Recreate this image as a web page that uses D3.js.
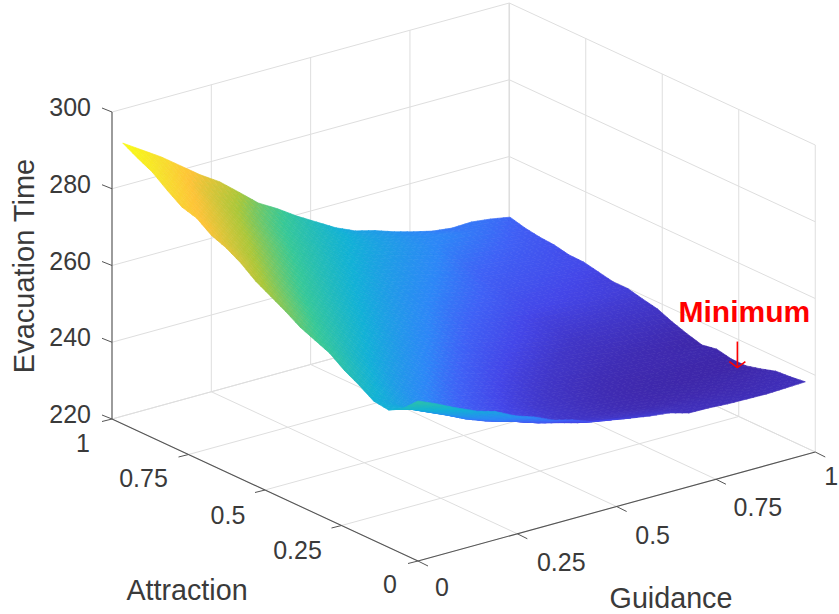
<!DOCTYPE html>
<html><head><meta charset="utf-8">
<script src="https://cdn.jsdelivr.net/npm/d3@7"></script>
<style>html,body{margin:0;padding:0;background:#fff;overflow:hidden}text{font-family:"Liberation Sans",Arial,sans-serif;fill:#3a3a3a}</style>
</head><body><svg id="c" width="839" height="614"></svg>
<script>
const attraction = d3.range(21).map(i => +(i*0.04825).toFixed(4));
const guidance = d3.range(21).map(j => +(j*0.04875).toFixed(4));
const zTicks = [220,240,260,280,300];
const abTicks = [0,0.25,0.5,0.75,1];
const abLabels = ["0","0.25","0.5","0.75","1"];
const parulaStops = ["#3e26a8","#3f2cb4","#4136c8","#4446e8","#3f62f6","#2d87f7","#12b1d6","#37c897","#abc739","#fec338","#f7e02d","#f9fb14"];
const parulaTimes = [236,238,240.5,243,246,249,256,264,272,281,287,293];
// rows: attraction index, columns: guidance index
const evacTime = [
[261.7,259.5,257.1,254.9,253.4,250.9,249.2,247,245.7,243.8,242.9,242,241.2,240.6,239.2,239.1,238.8,238.7,238.6,238.8,239],
[258,256.3,254.2,252,250,247.8,246.3,244.5,243.2,241.8,241,240.2,239.8,239.2,238.7,238.4,238.2,238,238,238.2,238.5],
[255.8,254.7,252.5,250.3,247.9,246,244.6,243,241.8,240.5,240,239.2,238.6,238,237.7,237.5,237.3,237.3,237.4,237.6,238.2],
[256.3,254,251.5,249.4,247.2,245.6,244,243,241.8,240.8,240,239,238.3,237.7,237.2,237,236.8,236.7,236.8,236.9,237],
[258.7,255.8,252.8,250.2,248,246.3,244.8,243.5,242.2,241,240.2,239.3,238.5,237.8,237.2,236.8,236.5,236.3,236.2,236.1,236],
[260.8,257.6,254.4,251.6,249.4,247.5,245.8,244.4,243,241.8,240.8,239.9,239,238.2,237.6,237.1,236.8,236.5,236.3,236.1,236],
[263.5,259.6,256.4,253.5,251,249,247,245.5,244,242.7,241.6,240.7,239.8,239,238.3,237.8,237.5,237.3,237.1,237,236.8],
[265.1,261.6,258.3,255.3,252.8,250.5,248.5,246.8,245.2,243.8,242.6,241.6,240.7,240,239.2,238.6,238.1,237.6,237.2,236.6,236.1],
[266.7,263.5,260.3,257.3,254.6,252.2,250,248.2,246.5,245,243.7,242.6,241.7,240.8,240,239.4,239,238.6,238.2,237.7,237.2],
[269.1,265.6,262.2,259.2,256.4,253.8,251.6,249.6,247.8,246.2,244.8,243.7,242.8,241.8,241,240.3,240,239.8,239.4,239,238.5],
[271.2,267.5,264.2,261,258.2,255.6,253.2,251,249.2,247.6,246,244.8,243.8,242.9,242,241.2,241,240.8,240.6,240.4,240.1],
[273.3,269.6,266,262.8,259.9,257.2,254.7,252.5,250.5,248.8,247.2,245.8,244.8,243.8,242.8,242,241.8,241.6,241.3,241.1,240.9],
[276.2,271.8,268,264.6,261.6,258.8,256.3,254,252,250.2,248.5,247,245.9,244.9,244,243.2,242.9,242.6,242.3,242,241.8],
[278.4,274.2,270.3,266.6,263.4,260.5,257.8,255.4,253.3,251.4,249.7,248.2,247,246,245,244,243.6,243.2,242.8,242.4,241.8],
[279.9,276,272.4,268.8,265.4,262.4,259.5,257,254.7,252.7,251,249.5,248.2,247,245.9,244.8,244.4,244,243.5,243,242.6],
[282.6,278.4,274.6,271,267.4,264.2,261.2,258.6,256.2,254.2,252.3,250.8,249.3,248,246.8,245.6,245,244.5,244.2,243.8,243.4],
[283.7,280.3,276.8,273,269.5,266.2,263,260.3,257.8,255.5,253.6,252,250.5,249.2,247.8,246.4,245.8,245.2,244.7,244.2,243.5],
[286.3,282.6,279,275.2,271.5,268,264.8,262,259.3,257,255,253.2,251.7,250.3,249,247.5,246.7,246,245.4,244.8,244.3],
[289.2,285.2,281.4,277.4,273.6,270,266.6,263.6,260.8,258.4,256.4,254.6,253,251.5,250.1,248.6,247.8,247,246.2,245.4,244.6],
[291.1,287.6,283.8,279.6,276,272.6,268.8,265.6,262.8,260,257.6,255.5,253.7,252.2,250.7,249.5,248.8,248,247.2,246.2,245.2],
[293.2,290,286.8,283.1,279.4,276.2,272.1,267.9,265,261.7,258.8,255.9,253.7,252.4,250.7,249.3,248.1,247.5,247.7,247.1,246.2]
];
const minimum = {a:0.222,g:0.975,z:234.5,label:"Minimum"};

const svg = d3.select("#c");
// oblique (orthographic) projection as three linear scales
const gX = d3.scaleLinear([0,1],[0,397.25]), gY = d3.scaleLinear([0,1],[0,-109]);
const aX = d3.scaleLinear([0,1],[0,-306]),  aY = d3.scaleLinear([0,1],[0,-142]);
const zY = d3.scaleLinear([220,300],[0,-307]);
const origin = [418,561];
const P = (a,g,z) => [origin[0]+gX(g)+aX(a), origin[1]+gY(g)+aY(a)+zY(z)];
const color = d3.scaleLinear().domain(parulaTimes).range(parulaStops).clamp(true);
const line = (p,q,col,w) => svg.append("line").attr("x1",p[0]).attr("y1",p[1]).attr("x2",q[0]).attr("y2",q[1]).attr("stroke",col).attr("stroke-width",w);

// grid
const gridCol="#dedede";
zTicks.forEach(z=>{ line(P(1,0,z),P(1,1,z),gridCol,1); line(P(1,1,z),P(0,1,z),gridCol,1); });
abTicks.forEach(t=>{
  if(t>0) line(P(1,t,220),P(1,t,300),gridCol,t===1?1.6:1);
  if(t<1) line(P(t,1,220),P(t,1,300),gridCol,1);
  line(P(t,0,220),P(t,1,220),gridCol,1);
  line(P(0,t,220),P(1,t,220),gridCol,1);
});

// axes
const axCol="#555";
line(P(1,0,220),P(1,0,300),"#666",1.3);
line(P(1,0,220),P(0,0,220),axCol,1.1);
line(P(0,0,220),P(0,1,220),axCol,1.1);
zTicks.forEach(z=>{const p=P(1,0,z); line(p,[p[0]-10,p[1]-4],"#555",1);});
abTicks.forEach(t=>{
  const p=P(t,0,220); line(p,[p[0]-10,p[1]+2.5],"#555",1);
  const q=P(0,t,220); line(q,[q[0]+10,q[1]+5],"#555",1);
});

// surface: typed grid, each cell shaded across its corners like "shading interp"
const sub=3, cells=[];
for(let i=attraction.length-2;i>=0;i--) for(let j=guidance.length-2;j>=0;j--){
  for(let u=sub-1;u>=0;u--) for(let v=sub-1;v>=0;v--){
    const bl=(s,t)=>{const z00=evacTime[i][j],z01=evacTime[i][j+1],z10=evacTime[i+1][j],z11=evacTime[i+1][j+1];
      const zz=(1-s)*(1-t)*z00+(1-s)*t*z01+s*(1-t)*z10+s*t*z11;
      return {p:P(attraction[i]+s*(attraction[i+1]-attraction[i]),guidance[j]+t*(guidance[j+1]-guidance[j]),zz),z:zz};};
    const c=[bl(u/sub,v/sub),bl(u/sub,(v+1)/sub),bl((u+1)/sub,(v+1)/sub),bl((u+1)/sub,v/sub)];
    cells.push({pts:c.map(d=>d.p),z:d3.mean(c,d=>d.z)});
  }
}
svg.append("g").selectAll("polygon").data(cells).join("polygon")
  .attr("points",d=>d.pts.map(p=>p.map(n=>n.toFixed(2)).join(",")).join(" "))
  .attr("fill",d=>color(d.z)).attr("stroke",d=>color(d.z)).attr("stroke-width",0.7).attr("stroke-linejoin","round");

// tick labels
const txt=(x,y,s,size,anchor="middle")=>svg.append("text").attr("x",x).attr("y",y).attr("text-anchor",anchor).attr("dominant-baseline","central").attr("font-size",size).text(s);
zTicks.forEach(z=>{const p=P(1,0,z); txt(p[0]-21,p[1]-5,String(z),25,"end");});
const aOff=[[-28,23],[-44,24],[-37,25],[-45,23],[-29,24]];
const gOff=[[24,26],[44,28],[36,28],[42,28],[16,24]];
abTicks.forEach((t,i)=>{
  const p=P(t,0,220); txt(p[0]+aOff[i][0],p[1]+aOff[i][1],abLabels[i],25);
  const q=P(0,t,220); txt(q[0]+gOff[i][0],q[1]+gOff[i][1],abLabels[i],25);
});
txt(187,590,"Attraction",28.7);
txt(671,598,"Guidance",28.7);
svg.append("text").attr("transform","translate(24,266) rotate(-90)").attr("text-anchor","middle").attr("dominant-baseline","central").attr("font-size",29).text("Evacuation Time");

// annotation
const m=P(minimum.a,minimum.g,minimum.z);
const red="#ff0000";
line([m[0],m[1]-26],m,red,1.6);
svg.append("path").attr("d",`M${m[0]-8},${m[1]-6}L${m[0]},${m[1]}L${m[0]+8},${m[1]-6}`).attr("fill","none").attr("stroke",red).attr("stroke-width",1.6);
svg.append("text").attr("x",m[0]+7).attr("y",m[1]-56).attr("text-anchor","middle").attr("dominant-baseline","central").attr("font-size",30).attr("font-weight","bold").style("fill",red).text(minimum.label);
</script></body></html>
